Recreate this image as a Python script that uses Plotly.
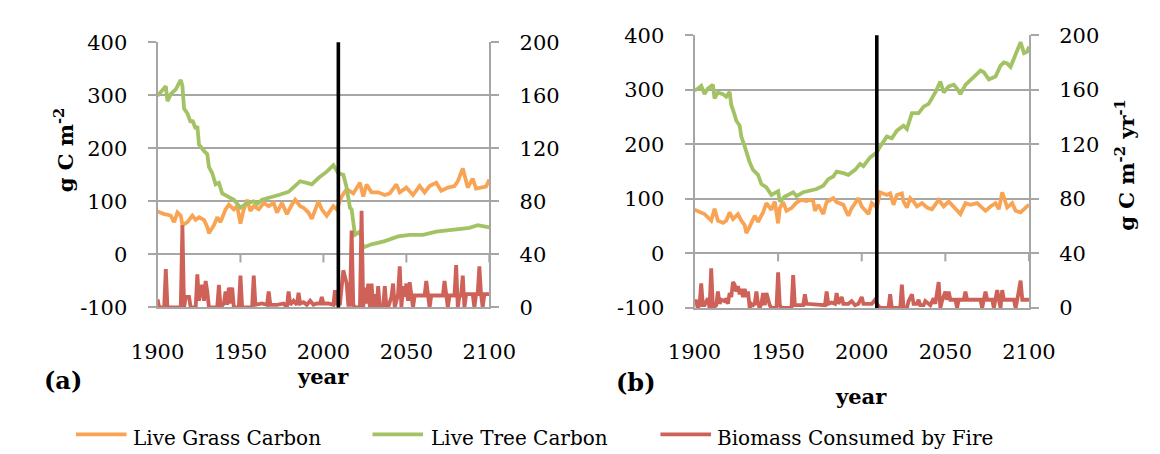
import plotly.graph_objects as go

# ---------------- data ----------------
# Panel (a)
a_tree_years = [1900,1903,1905,1906,1908,1911,1914,1915,1916,1918,1920,1921,1923,1924,1925,1928,1930,1931,1933,1935,
                1937,1939,1942,1946,1950,1954,1958,1960,1963,1967,1973,1979,1983,1986,1990,1993,1997,2000,2002,2006,
                2009,2012,2014,2016,2017,2019,2022,2024,2029,2037,2045,2052,2060,2068,2077,2082,2088,2093,2097,2100]
a_tree_vals = [299,310,317,289,302,311,329,318,275,266,249,253,237,242,207,195,189,165,153,132,
               135,115,109,103,88,97,100,95,103,106,112,118,129,138,135,132,144,150,156,168,
               153,150,126,88,85,37,43,13,19,25,34,37,37,43,46,48,50,55,52,51]

a_grass_years = [1900,1902,1904,1906,1908,1910,1912,1914,1915,1918,1921,1923,1925,1928,1930,1931,1934,1936,1938,1941,
                 1943,1946,1948,1950,1952,1954,1956,1958,1961,1964,1967,1970,1972,1975,1978,1981,1983,1986,1988,1991,
                 1993,1997,1999,2002,2006,2008,2011,2014,2018,2022,2024,2026,2029,2033,2037,2040,2044,2046,2050,2054,
                 2058,2061,2064,2068,2071,2075,2079,2081,2084,2087,2090,2092,2096,2098,2100]
a_grass_vals = [81,78,76,75,73,61,79,73,55,61,73,65,70,65,52,40,55,70,61,85,
                94,85,91,58,85,103,82,91,85,97,91,97,79,97,76,94,103,91,88,79,
                67,100,85,73,91,85,109,123,115,135,109,132,117,117,112,115,132,117,126,112,
                129,117,129,135,120,126,129,138,162,126,143,124,126,128,141]

a_fire_years = [1900,1901,1904,1905,1906,1914,1915,1916,1917,1919,1920,1923,1924,1925,1926,1927,1928,1929,1930,1931,
                1936,1937,1938,1940,1941,1942,1943,1944,1945,1946,1949,1950,1951,1957,1958,1959,1963,1966,1967,1968,
                1972,1976,1978,1979,1980,1982,1984,1985,1986,1988,1990,1992,1994,1996,1998,1999,2000,2003,2006,2007,
                2008,2010,2012,2014,2015,2016,2017,2018,2019,2022,2023,2024,2025,2026,2027,2028,2029,2030,2031,2032,
                2033,2034,2036,2037,2038,2039,2041,2042,2043,2045,2046,2047,2048,2049,2050,2051,2052,2053,2054,2055,
                2061,2062,2063,2064,2065,2072,2073,2074,2075,2076,2079,2080,2081,2082,2083,2084,2085,2086,2090,2091,
                2092,2093,2094,2095,2096,2097,2100]
a_fire_vals = [6,0,0,29,0,0,62,0,8,8,0,0,25,5,13,17,5,20,12,0,
               0,17,0,3,12,2,15,3,15,0,0,24,0,0,24,2,3,2,12,2,
               2,3,0,12,2,5,2,11,3,4,2,5,2,3,3,8,3,3,2,13,
               3,3,28,18,2,2,58,2,0,0,73,0,15,3,18,0,18,0,10,0,
               16,0,0,16,0,0,8,18,0,10,31,0,16,8,18,5,19,8,0,9,
               9,20,9,0,9,9,20,9,0,9,9,32,0,9,9,24,0,10,10,0,
               10,10,31,10,0,10,10]

# Panel (b)
b_tree_years = [1900,1902,1904,1906,1908,1911,1912,1914,1917,1919,1921,1922,1924,1925,1927,1928,1930,1931,1933,1935,
                1938,1940,1943,1946,1950,1951,1954,1959,1961,1965,1969,1973,1977,1980,1983,1985,1989,1992,1996,1999,
                2001,2005,2009,2011,2015,2018,2021,2025,2027,2030,2034,2037,2040,2044,2047,2049,2052,2055,2057,2059,
                2062,2065,2069,2071,2073,2076,2080,2083,2085,2087,2089,2091,2095,2097,2099,2100]
b_tree_vals = [299,302,307,292,302,309,284,295,292,287,296,272,254,243,234,214,196,185,167,153,
               144,127,121,107,114,95,104,112,105,112,115,118,124,136,141,150,147,144,153,164,
               160,176,185,196,214,211,225,234,228,257,257,269,274,295,315,295,306,309,302,292,
               309,318,329,335,332,319,324,344,350,348,342,358,387,367,370,379]

b_grass_years = [1900,1903,1906,1909,1910,1912,1914,1917,1919,1921,1923,1926,1928,1930,1931,1933,1936,1938,1941,1943,
                 1946,1948,1950,1951,1953,1955,1958,1961,1964,1967,1969,1971,1972,1974,1977,1979,1983,1985,1989,1991,
                 1992,1994,1998,2000,2004,2006,2009,2011,2015,2017,2019,2021,2024,2025,2027,2029,2031,2033,2036,2039,
                 2042,2046,2049,2052,2055,2059,2062,2065,2069,2071,2074,2077,2080,2082,2084,2087,2090,2092,2095,2098,
                 2100]
b_grass_vals = [80,76,72,63,60,82,60,56,60,75,63,72,60,52,37,49,69,58,75,92,
                80,95,55,83,94,78,83,93,98,96,98,96,78,89,72,94,101,94,89,75,
                69,83,101,86,72,92,84,112,107,110,89,107,110,95,84,101,95,86,92,84,
                81,98,86,95,86,72,92,89,92,86,78,86,92,81,112,84,92,78,75,84,
                89]

b_fire_years = [1900,1901,1902,1903,1904,1905,1906,1908,1909,1910,1911,1913,1914,1915,1916,1918,1919,1920,1921,1922,
                1923,1924,1925,1926,1927,1928,1929,1930,1931,1932,1933,1934,1935,1936,1937,1938,1939,1940,1941,1942,
                1943,1944,1945,1946,1949,1950,1951,1952,1958,1959,1960,1965,1966,1967,1975,1978,1979,1980,1982,1984,
                1985,1986,1988,1989,1992,1994,1996,1998,2000,2001,2006,2008,2009,2011,2016,2017,2018,2023,2024,2025,
                2027,2028,2030,2031,2033,2034,2035,2037,2038,2040,2041,2043,2044,2046,2047,2048,2050,2051,2052,2053,
                2056,2057,2058,2061,2062,2063,2071,2072,2073,2074,2075,2078,2079,2080,2081,2082,2083,2084,2085,2091,
                2092,2093,2095,2096,2100]
b_fire_vals = [5,5,0,2,18,2,2,7,0,29,0,2,12,3,6,5,7,3,11,8,
               19,17,12,16,10,14,8,14,8,12,0,3,2,3,12,3,0,3,11,2,
               11,5,2,0,0,26,2,0,0,24,2,2,10,3,2,2,12,3,4,3,
               11,3,8,3,3,5,2,3,8,3,3,6,3,0,0,10,0,0,17,0,
               0,5,10,3,3,6,2,2,5,3,2,7,3,19,0,5,12,6,12,6,
               6,0,6,6,12,6,6,0,6,12,6,6,0,6,13,6,0,13,6,6,
               0,6,20,6,6]

year_ticks = [1900, 1950, 2000, 2050, 2100]
x_ticks_at_zero = [1950, 2000, 2050, 2100]
left_ticks = [-100, 0, 100, 200, 300, 400]
left_tick_text = ["-100", "0", "100", "200", "300", "400"]
right_ticks = [0, 40, 80, 120, 160, 200]
present_year = 2009
series_names = ["Live Grass Carbon", "Live Tree Carbon", "Biomass Consumed by Fire"]

# ---------------- style ----------------
W, H = 1160, 454
C_GRASS = "#F9A455"
C_TREE = "#A3C264"
C_FIRE = "#CE6259"
GRID = "#A6A6A6"
FONT = "DejaVu Serif"
LW = 3.8

def px(x):
    return x / W

def py(y):
    return 1 - y / H

A = dict(x0=128.5, x1=476.5, yt=23.5, yb=303.5)
B = dict(x0=691.7, x1=1042.5, yt=16.0, yb=304.0)

fig = go.Figure()

def add_panel(xa, ya, ya2, grass_x, grass_y, tree_x, tree_y, fire_x, fire_y):
    fig.add_trace(go.Scatter(x=grass_x, y=grass_y, mode="lines", name=series_names[0],
                             line=dict(color=C_GRASS, width=LW), xaxis=xa, yaxis=ya, showlegend=False))
    fig.add_trace(go.Scatter(x=tree_x, y=tree_y, mode="lines", name=series_names[1],
                             line=dict(color=C_TREE, width=LW), xaxis=xa, yaxis=ya, showlegend=False))
    fig.add_trace(go.Scatter(x=fire_x, y=fire_y, mode="lines", name=series_names[2],
                             line=dict(color=C_FIRE, width=LW), xaxis=xa, yaxis=ya2, showlegend=False))

add_panel("x", "y", "y2", a_grass_years, a_grass_vals, a_tree_years, a_tree_vals,
          a_fire_years, a_fire_vals)
add_panel("x2", "y3", "y4", b_grass_years, b_grass_vals, b_tree_years, b_tree_vals,
          b_fire_years, b_fire_vals)

tickfont = dict(family=FONT, size=21, color="black")

def xaxis(p, anchor):
    return dict(domain=[px(p["x0"]), px(p["x1"])], range=[1900, 2100], tickvals=year_ticks,
                tickfont=tickfont, showgrid=False, zeroline=False, showline=True,
                linecolor=GRID, linewidth=2, ticks="", anchor=anchor, ticklabelstandoff=24,
                fixedrange=True)

def yleft(p, anchor):
    return dict(domain=[py(p["yb"]), py(p["yt"])], range=[-100, 400], tickvals=left_ticks,
                ticktext=left_tick_text,
                tickfont=tickfont, showgrid=True, gridcolor=GRID, gridwidth=2, zeroline=False,
                showline=True, linecolor=GRID, linewidth=2, ticks="outside", ticklen=8,
                tickcolor=GRID, tickwidth=2, anchor=anchor, ticklabelstandoff=16, fixedrange=True)

def yright(p, anchor, over):
    return dict(domain=[py(p["yb"]), py(p["yt"])], range=[0, 200], tickvals=right_ticks,
                tickfont=tickfont, showgrid=False, zeroline=False, side="right", overlaying=over,
                showline=True, linecolor=GRID, linewidth=2, ticks="outside", ticklen=8,
                tickcolor=GRID, tickwidth=2, anchor=anchor, ticklabelstandoff=16, fixedrange=True)

shapes = []
# x-axis tick marks at the y=0 crossing, and the present-day marker line
for xr, yr in (("x", "y"), ("x2", "y3")):
    for t in x_ticks_at_zero:
        shapes.append(dict(type="line", xref=xr, yref=yr, x0=t, x1=t, ysizemode="pixel",
                           yanchor=0, y0=0, y1=-8, line=dict(color=GRID, width=2)))
    shapes.append(dict(type="line", xref=xr, yref=yr + " domain", x0=present_year, x1=present_year,
                       y0=0, y1=1, line=dict(color="black", width=3.6), layer="above"))

# manual legend
legend_items = [(43, 101, C_GRASS), (354, 413, C_TREE), (656, 713, C_FIRE)]
annotations = []
for (lx, tx, col), name in zip(legend_items, series_names):
    shapes.append(dict(type="line", xref="paper", yref="paper", x0=px(lx), x1=px(lx + 53),
                       y0=py(437.5), y1=py(437.5), line=dict(color=col, width=3.6)))
    annotations.append(dict(text=name, xref="paper", yref="paper", x=px(tx), y=py(441),
                            xanchor="left", yanchor="middle", showarrow=False,
                            font=dict(family=FONT, size=20, color="black")))

bold = dict(family=FONT, size=21, color="black")
big = dict(family=FONT, size=24, color="black")
annotations += [
    dict(text="<b>g C m<sup>-2</sup></b>", xref="paper", yref="paper", x=px(30), y=py(137), textangle=-90,
         showarrow=False, xanchor="center", yanchor="middle", font=bold),
    dict(text="<b>g C m<sup>-2</sup> yr<sup>-1</sup></b>", xref="paper", yref="paper", x=px(1143), y=py(153),
         textangle=-90, showarrow=False, xanchor="center", yanchor="middle", font=bold),
    dict(text="<b>(a)</b>", xref="paper", yref="paper", x=px(29), y=py(381), showarrow=False,
         xanchor="center", yanchor="middle", font=big),
    dict(text="<b>(b)</b>", xref="paper", yref="paper", x=px(630), y=py(383), showarrow=False,
         xanchor="center", yanchor="middle", font=big),
    dict(text="<b>year</b>", xref="paper", yref="paper", x=px(302), y=py(376), showarrow=False,
         xanchor="center", yanchor="middle", font=bold),
    dict(text="<b>year</b>", xref="paper", yref="paper", x=px(866), y=py(398), showarrow=False,
         xanchor="center", yanchor="middle", font=bold),
]

fig.update_layout(
    width=W, height=H, autosize=False,
    margin=dict(l=0, r=0, t=0, b=0),
    paper_bgcolor="white", plot_bgcolor="white",
    showlegend=False,
    xaxis=xaxis(A, "y"),
    yaxis=yleft(A, "x"),
    yaxis2=yright(A, "x", "y"),
    xaxis2=xaxis(B, "y3"),
    yaxis3=yleft(B, "x2"),
    yaxis4=yright(B, "x2", "y3"),
    shapes=shapes,
    annotations=annotations,
)

fig.write_html("out.html", config={"displayModeBar": False})
